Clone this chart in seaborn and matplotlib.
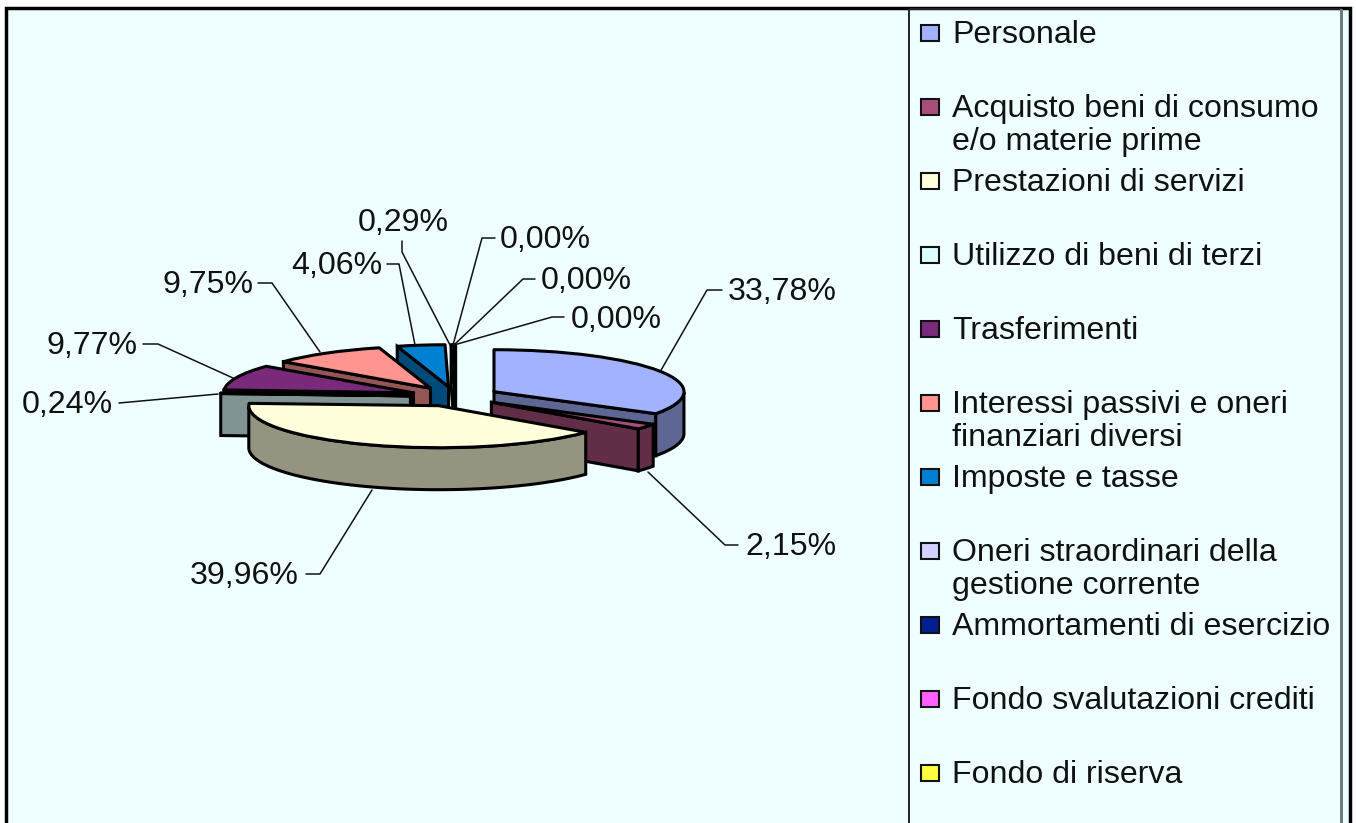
import numpy as np
import matplotlib
matplotlib.use('Agg')
import matplotlib.pyplot as plt
from matplotlib.patches import Rectangle, Polygon
from matplotlib.transforms import Affine2D
import seaborn as sns

categories = ['Personale', 'Acquisto beni di consumo\ne/o materie prime', 'Prestazioni di servizi',
              'Utilizzo di beni di terzi', 'Trasferimenti', 'Interessi passivi e oneri\nfinanziari diversi',
              'Imposte e tasse', 'Oneri straordinari della\ngestione corrente', 'Ammortamenti di esercizio',
              'Fondo svalutazioni crediti', 'Fondo di riserva']
values = [33.78, 2.15, 39.96, 0.24, 9.77, 9.75, 4.06, 0.29, 0.00, 0.00, 0.00]
etichette = ['33,78%', '2,15%', '39,96%', '0,24%', '9,77%', '9,75%', '4,06%', '0,29%', '0,00%', '0,00%', '0,00%']
colori = ['#A2B2FF', '#A84E7A', '#FFFFDC', '#DCFFFF', '#7A2A7A', '#FF9490',
          '#0080D0', '#D2D2FF', '#002090', '#FF60FF', '#FFFF40']

W, H = 1356, 823
sfondo = '#EFFFFF'
testo_size = 23.1
sns.set_style('white')
plt.rcParams['font.family'] = ['Liberation Sans', 'DejaVu Sans']
palette = sns.color_palette(colori)
scuri = [tuple(c * 0.58 for c in col) for col in palette]

fig = plt.figure(figsize=(W / 100, H / 100), dpi=100, facecolor='white')
ax = fig.add_axes([0, 0, 1, 1])

# posizione della torta in pixel
cx, cy, rx, ry, spessore = 455, 396.5, 190, 42, 42
esplosione = 0.235

wedges, _ = ax.pie(values, colors=palette, startangle=90, counterclock=False, radius=1,
                   explode=[esplosione] * len(values),
                   wedgeprops={'edgecolor': 'black', 'linewidth': 2.2, 'joinstyle': 'round'})
ax.set_aspect('auto')
ax.set_xlim(-cx / rx, (W - cx) / rx)
ax.set_ylim((cy - H) / ry, cy / ry)
ax.patch.set_alpha(0)

dz = spessore / ry

# angoli delle fette, dal valore
fine = 90 - np.cumsum(values) / np.sum(values) * 360
inizio = np.r_[90, fine[:-1]]

# ordine di disegno dal fondo al davanti
ordine = [0, 6, 7, 8, 9, 10, 5, 4, 3, 1, 2]
for z, i in enumerate(ordine):
    a0, a1 = inizio[i], fine[i]
    mid = np.radians((a0 + a1) / 2)
    ox, oy = esplosione * np.cos(mid), esplosione * np.sin(mid)
    arco = np.radians(np.linspace(a0, a1, 80))
    px = ox + np.cos(arco)
    py = oy + np.sin(arco)
    zbase = 2 * z + 3
    # tagli radiali: si vedono solo se guardano in basso
    for a, segno in ((a0, 1), (a1, -1)):
        rad = np.radians(a)
        ex, ey = ox + np.cos(rad), oy + np.sin(rad)
        if segno * np.cos(rad) < 0:
            pts = [(ox, oy), (ex, ey), (ex, ey - dz), (ox, oy - dz)]
            ax.add_patch(Polygon(pts, closed=True, facecolor=scuri[i], edgecolor='black', lw=2.2, zorder=zbase))
    # bordo esterno: solo la parte sotto
    vis = np.sin(arco) < 0
    if vis.any() and values[i] > 0:
        xx, yy = px[vis], py[vis]
        pts = np.r_[np.c_[xx, yy], np.c_[xx[::-1], yy[::-1] - dz]]
        ax.add_patch(Polygon(pts, closed=True, facecolor=scuri[i], edgecolor='black', lw=2.2, zorder=zbase))
    wedges[i].set_zorder(zbase + 1)

# etichette e linee guida, in pixel
pixel = Affine2D().scale(1, -1).translate(0, H)
pos_etichette = [(728, 290), (745, 545), (190, 574), (22, 403), (47, 344), (162, 283), (291, 264),
                 (358, 221), (500, 238), (541, 279), (571, 318)]
guide = [[(722, 290), (707, 290), (660, 372)],
         [(738, 545), (725, 545), (648, 472)],
         [(306, 574), (320, 574), (372, 490)],
         [(119, 403), (130, 402), (218, 394)],
         [(143, 344), (158, 344), (233, 378)],
         [(258, 283), (272, 283), (320, 352)],
         [(387, 264), (399, 264), (415, 345)],
         [(402, 241), (402, 252), (450, 345)],
         [(495, 238), (482, 238), (453, 345)],
         [(535, 279), (523, 279), (454, 345)],
         [(564, 317), (552, 317), (454, 345)]]
for testo, pos, linea in zip(etichette, pos_etichette, guide):
    xs, ys = zip(*linea)
    ax.plot(xs, ys, color='#111111', lw=1.1, transform=pixel, zorder=40, clip_on=False)
    ax.text(pos[0], pos[1] + 2, testo, transform=pixel, fontsize=testo_size, va='center', ha='left',
            color='#111111', zorder=41)

# fondo e cornici
fig.patches.append(Rectangle((6, 8), 1344, H, transform=pixel, facecolor=sfondo, edgecolor='black', lw=2.5, zorder=-5))
fig.patches.append(Rectangle((909, 9), 432, H, transform=pixel, facecolor='none', edgecolor='#222222', lw=1.4, zorder=-4))
fig.patches.append(Rectangle((1340, 9), 2.5, H, transform=pixel, facecolor='#6E7E7E', edgecolor='none', zorder=-3))

# legenda: ogni voce ha lo stesso passo
for i, nome in enumerate(categories):
    y = 33 + i * 74
    ax.add_patch(Rectangle((921, y - 8), 18, 16, transform=pixel, facecolor=palette[i], edgecolor='#111111', lw=1.5, zorder=40))
    righe = nome.split('\n')
    for k, riga in enumerate(righe):
        ax.text(952, y + 2 + k * 33, riga, transform=pixel, fontsize=testo_size, va='center', ha='left',
                color='#111111', zorder=41)

fig.savefig('out.png', dpi=100)
